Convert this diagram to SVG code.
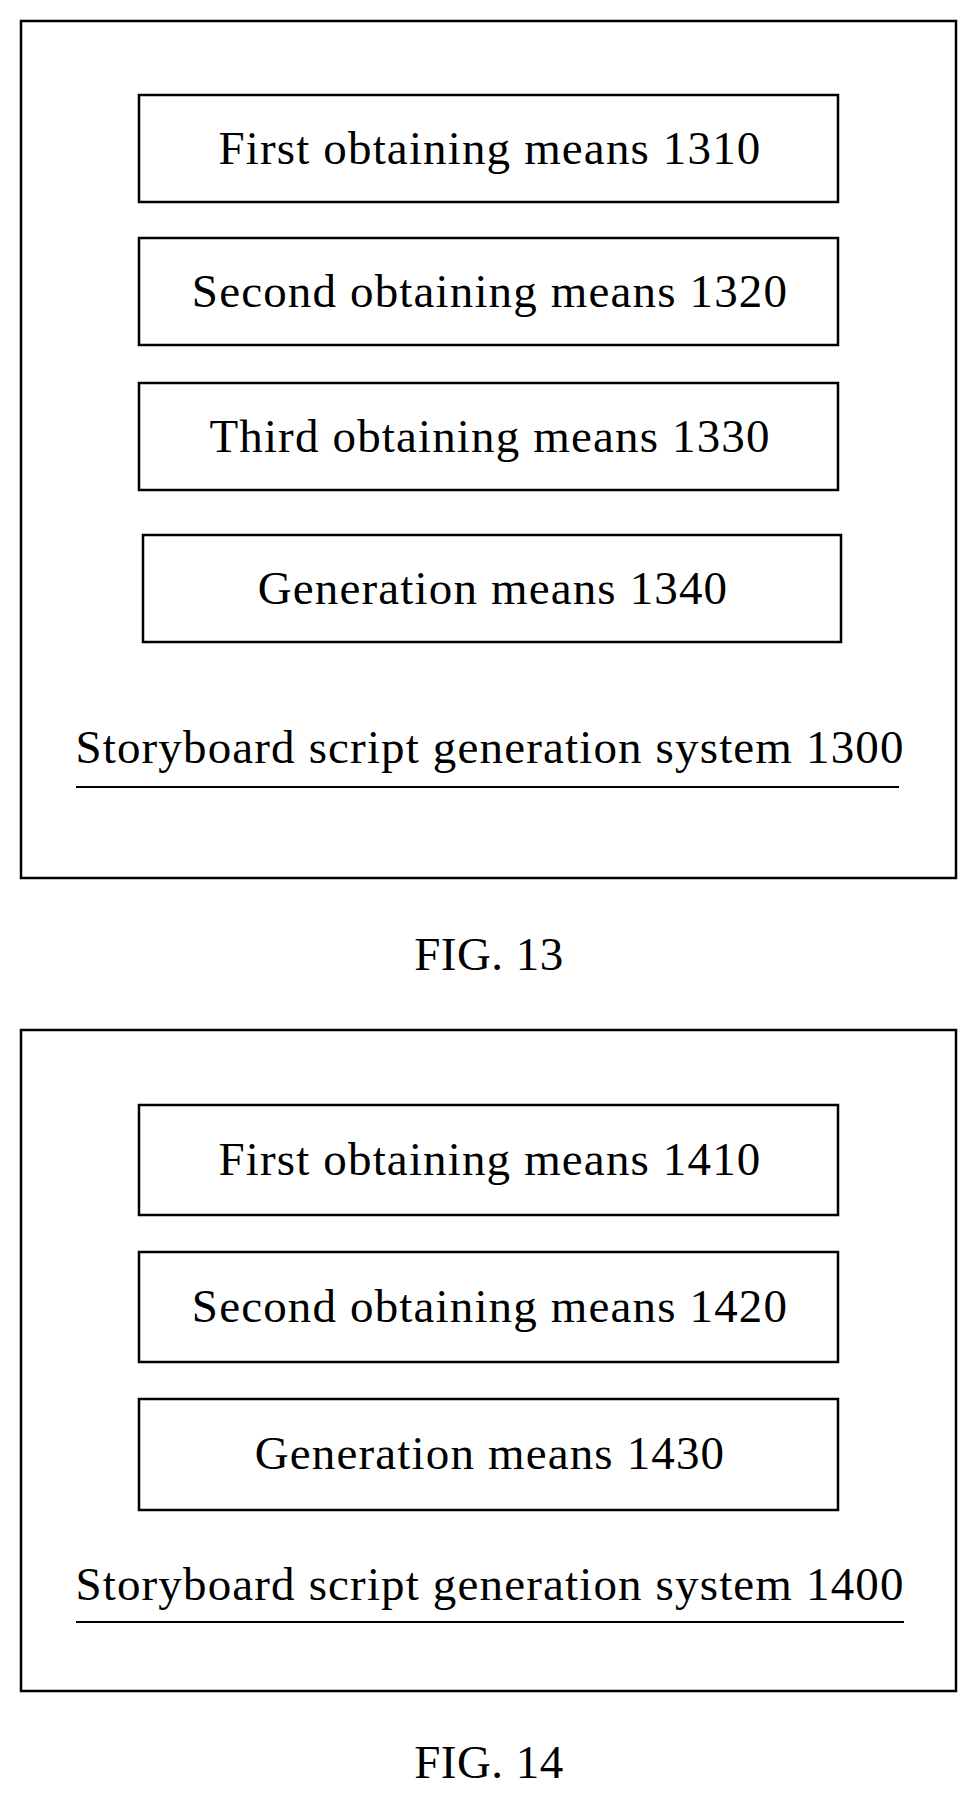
<svg xmlns="http://www.w3.org/2000/svg" width="978" height="1805" viewBox="0 0 978 1805">
<style>
.o{fill:#fff;stroke:#000;stroke-width:2.5}
.b{fill:#fff;stroke:#000;stroke-width:2.5}
text{font-family:"Liberation Serif",serif;font-size:47px;fill:#000;text-anchor:middle;letter-spacing:1.15px}
text.f{letter-spacing:0.5px}
.u{stroke:#000;stroke-width:2}
</style>
<rect width="978" height="1805" fill="#fff"/>
<g id="fig13">
<rect class="o" x="21" y="21" width="935" height="857"/>
<g id="n1310"><rect class="b" x="139" y="95" width="699" height="107"/><text x="490" y="164">First obtaining means 1310</text></g>
<g id="n1320"><rect class="b" x="139" y="238" width="699" height="107"/><text x="490" y="307">Second obtaining means 1320</text></g>
<g id="n1330"><rect class="b" x="139" y="383" width="699" height="107"/><text x="490" y="452">Third obtaining means 1330</text></g>
<g id="n1340"><rect class="b" x="143" y="535" width="698" height="107"/><text x="493" y="604">Generation means 1340</text></g>
<g id="l1300"><text x="490" y="763">Storyboard script generation system 1300</text><line class="u" x1="76" y1="787" x2="899" y2="787"/></g>
<text class="f" x="489" y="970">FIG. 13</text>
</g>
<g id="fig14">
<rect class="o" x="21" y="1030" width="935" height="661"/>
<g id="n1410"><rect class="b" x="139" y="1105" width="699" height="110"/><text x="490" y="1175">First obtaining means 1410</text></g>
<g id="n1420"><rect class="b" x="139" y="1252" width="699" height="110"/><text x="490" y="1322">Second obtaining means 1420</text></g>
<g id="n1430"><rect class="b" x="139" y="1399" width="699" height="111"/><text x="490" y="1469">Generation means 1430</text></g>
<g id="l1400"><text x="490" y="1600">Storyboard script generation system 1400</text><line class="u" x1="76" y1="1622" x2="904" y2="1622"/></g>
<text class="f" x="489" y="1778">FIG. 14</text>
</g>
<g id="connectors"/>
</svg>
